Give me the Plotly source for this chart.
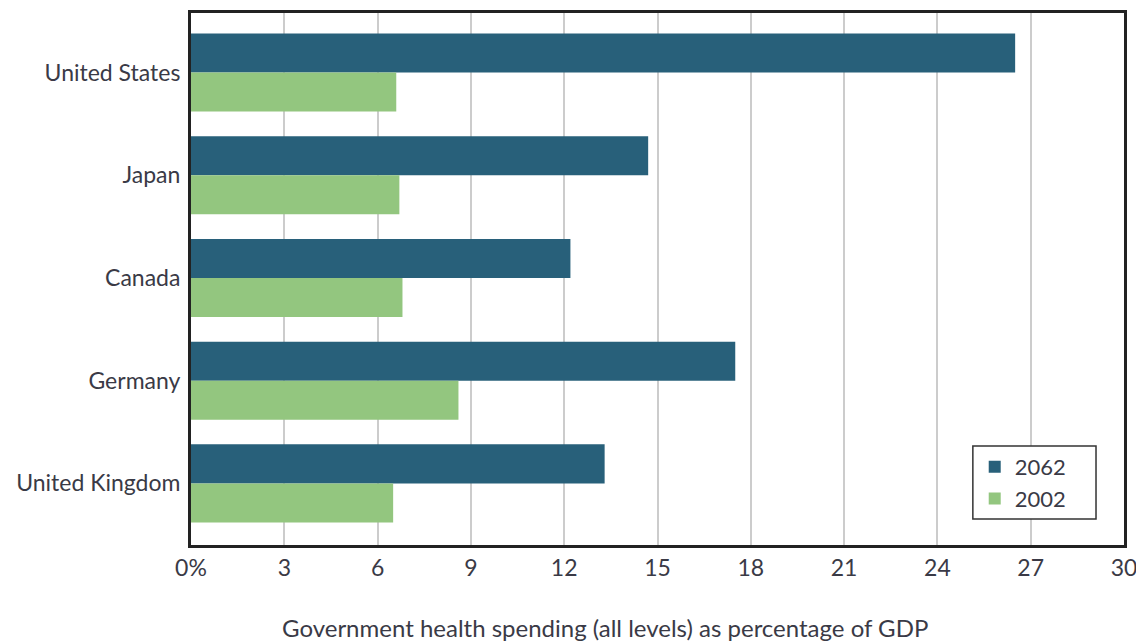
import plotly.graph_objects as go

countries = ["United States", "Japan", "Canada", "Germany", "United Kingdom"]
spending_2062 = [26.5, 14.7, 12.2, 17.5, 13.3]
spending_2002 = [6.6, 6.7, 6.8, 8.6, 6.5]
x_ticks = [0, 3, 6, 9, 12, 15, 18, 21, 24, 27, 30]
x_tick_labels = ["0%", "3", "6", "9", "12", "15", "18", "21", "24", "27", "30"]

FONT = "Lato, Open Sans, sans-serif"
TEXT = "#3a3a46"

fig = go.Figure()
fig.add_trace(go.Bar(
    y=countries, x=spending_2062, name="2062", orientation="h",
    marker=dict(color="#28607a", line=dict(width=0)),
))
fig.add_trace(go.Bar(
    y=countries, x=spending_2002, name="2002", orientation="h",
    marker=dict(color="#93c67f", line=dict(width=0)),
))

# legend frame drawn as a white box so the gridline stops at it
fig.add_shape(
    type="rect", xref="paper", yref="paper",
    x0=0.838, x1=0.970, y0=0.049, y1=0.186,
    fillcolor="white", line=dict(color="#333333", width=1.5), layer="above",
)

fig.update_layout(
    width=1136, height=643,
    margin=dict(l=191, r=12, t=13, b=98),
    paper_bgcolor="white", plot_bgcolor="white",
    barmode="group", bargap=0.24, bargroupgap=0,
    font=dict(family=FONT, size=23, color=TEXT),
    showlegend=True,
    legend=dict(
        x=0.840, y=0.186, xanchor="left", yanchor="top",
        bgcolor="rgba(0,0,0,0)", borderwidth=0,
        font=dict(size=22, color=TEXT), traceorder="normal",
        itemwidth=30,
    ),
    xaxis=dict(
        range=[0, 30], tickvals=x_ticks, ticktext=x_tick_labels,
        showgrid=True, gridcolor="#cccccc", gridwidth=1.5,
        showline=True, linecolor="#222222", linewidth=3, mirror=True,
        ticks="", zeroline=False, automargin=False,
        ticklabeloverflow="allow",
        tickfont=dict(size=23, color=TEXT),
    ),
    yaxis=dict(
        type="category", range=[4.6, -0.58],
        showline=True, linecolor="#222222", linewidth=3, mirror=True,
        ticks="", ticklabelstandoff=3, automargin=False,
        tickfont=dict(size=23, color=TEXT),
    ),
    annotations=[dict(
        text="Government health spending (all levels) as percentage of GDP",
        xref="paper", yref="paper", x=0.444, y=0, yshift=-82,
        xanchor="center", yanchor="middle", showarrow=False,
        font=dict(size=24, color=TEXT),
    )],
)

fig.write_html("out.html")
